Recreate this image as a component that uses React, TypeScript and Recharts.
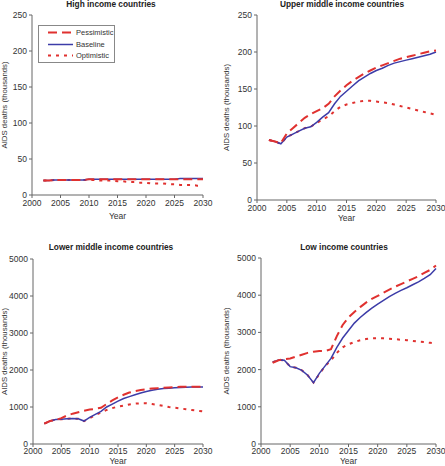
import { LineChart, Line, XAxis, YAxis } from "recharts"

const YEARS = [
  2002, 2003, 2004, 2005, 2006, 2007, 2008, 2009, 2010, 2011, 2012, 2013, 2014, 2015, 2016,
  2017, 2018, 2019, 2020, 2021, 2022, 2023, 2024, 2025, 2026, 2027, 2028, 2029, 2030,
]
const X_TICKS = [2000, 2005, 2010, 2015, 2020, 2025, 2030]
const Y_TICKS_SMALL = [0, 50, 100, 150, 200, 250]
const Y_TICKS_LARGE = [0, 1000, 2000, 3000, 4000, 5000]
const SERIES_NAMES = ["Pessimistic", "Baseline", "Optimistic"]

// High income countries
const HIGH_PESS = [
  20, 20, 21, 21, 21, 21, 21, 21, 22, 22, 22, 22, 22, 22, 22, 22, 22, 22, 22, 22, 22, 22, 22,
  22, 22, 22, 22, 22, 22,
]
const HIGH_BASE = [
  20, 20, 21, 21, 21, 21, 21, 21, 22, 22, 22, 22, 22, 22, 22, 22, 22, 22, 22, 22, 22, 22, 22,
  22, 23, 23, 23, 23, 23,
]
const HIGH_OPT = [
  20, 20, 21, 21, 21, 21, 21, 21, 21, 21, 20, 20, 20, 19, 19, 18, 18, 17, 17, 16, 16, 16, 15,
  15, 14, 14, 14, 13, 13,
]

// Upper middle income countries
const UPPER_PESS = [
  81, 79, 77, 90, 97, 104, 111, 116, 120, 124, 130, 140, 148, 155, 161, 166, 171, 175, 179, 182,
  185, 188, 191, 193, 195, 197, 199, 201, 202,
]
const UPPER_BASE = [
  81, 79, 76, 85, 89, 93, 97, 99, 105, 112, 118, 130, 140, 147, 154, 161, 166, 171, 175, 178,
  182, 185, 187, 189, 191, 193, 195, 197, 200,
]
const UPPER_OPT = [
  81, 79, 76, 85, 89, 93, 97, 99, 104, 109, 113, 120, 126, 129, 131, 133, 134, 134, 133, 132,
  131, 129, 127, 125, 123, 121, 119, 117, 115,
]

// Lower middle income countries
const LOWER_PESS = [
  550, 620, 650, 700, 770, 820, 860, 900, 930, 950, 980, 1080, 1180, 1260, 1330, 1390, 1430,
  1460, 1480, 1500, 1510, 1520, 1530, 1540, 1545, 1550, 1550, 1550, 1550,
]
const LOWER_BASE = [
  550, 620, 660, 670, 680, 690, 680, 620, 720, 800, 880, 1000, 1080, 1160, 1230, 1280, 1330,
  1380, 1420, 1450, 1480, 1500, 1510, 1520, 1530, 1535, 1540, 1540, 1540,
]
const LOWER_OPT = [
  550, 620, 660, 670, 680, 690, 680, 620, 700, 780, 850, 920, 970, 1010, 1040, 1070, 1090, 1100,
  1100, 1080, 1060, 1030, 1000, 980, 960, 940, 920, 900, 880,
]

// Low income countries
const LOW_PESS = [
  2180, 2250, 2280, 2300, 2350, 2400, 2450, 2480, 2500, 2500, 2550, 2900, 3200, 3400, 3550,
  3680, 3800, 3900, 3980, 4070, 4150, 4230, 4300, 4370, 4440, 4510, 4600, 4680, 4800,
]
const LOW_BASE = [
  2200, 2260, 2250, 2080, 2050, 1980, 1850, 1650, 1900, 2100, 2300, 2600, 2850, 3050, 3250,
  3400, 3530, 3650, 3760, 3860, 3960, 4050, 4130, 4200, 4280, 4360, 4450, 4550, 4720,
]
const LOW_OPT = [
  2200, 2260, 2250, 2080, 2050, 1980, 1850, 1650, 1880, 2100, 2250, 2450, 2600, 2680, 2740,
  2790, 2820, 2840, 2840, 2840, 2830, 2820, 2800, 2790, 2770, 2750, 2740, 2720, 2700,
]

const RED = "#e0312f"
const BLUE = "#3c3ca8"
const AXIS = "#666"
const FONT = "'Liberation Sans', Arial, sans-serif"
const PESS_DASH = "9 5"
const OPT_DASH = "3 5"

const rows = (p: number[], b: number[], o: number[]) =>
  YEARS.map((year, i) => ({ year, pessimistic: p[i], baseline: b[i], optimistic: o[i] }))

// legend sits inside the high income panel
function LegendBox() {
  const styles = [
    { dash: PESS_DASH, color: RED, w: 2 },
    { dash: undefined, color: BLUE, w: 1.5 },
    { dash: OPT_DASH, color: RED, w: 2 },
  ]
  return (
    <div
      style={{
        position: "absolute",
        left: 38,
        top: 25,
        width: 77,
        height: 38,
        border: "1px solid #888",
        background: "white",
        boxSizing: "border-box",
        paddingTop: 1,
        fontFamily: FONT,
        fontSize: 7.5,
        color: "#333",
      }}
    >
      {SERIES_NAMES.map((name, i) => (
        <div key={name} style={{ display: "flex", alignItems: "center", height: 11.5 }}>
          <svg width={37} height={11} style={{ display: "block" }}>
            <line x1={9} x2={34} y1={5.5} y2={5.5} stroke={styles[i].color} strokeWidth={styles[i].w} strokeDasharray={styles[i].dash} />
          </svg>
          <span>{name}</span>
        </div>
      ))}
    </div>
  )
}

type PanelProps = {
  title: string
  left: number
  top: number
  width: number
  height: number
  yWidth: number
  marginTop: number
  marginRight: number
  xHeight: number
  yTicks: number[]
  data: ReturnType<typeof rows>
  titleX: number
  titleY: number
  yearOffset: number
  tickGap: number
  showLegend?: boolean
}

function Panel(props: PanelProps) {
  const { title, left, top, width, height, yWidth, marginTop, marginRight, xHeight, yTicks, data } = props
  const tickStyle = { fontSize: 8.5, fill: "#333", fontFamily: FONT }
  const yDomain = [yTicks[0], yTicks[yTicks.length - 1]]
  return (
    <div style={{ position: "absolute", left, top, width, height }}>
      <div
        style={{
          position: "absolute",
          left: props.titleX - 100,
          width: 200,
          top: props.titleY - 6,
          lineHeight: "12px",
          textAlign: "center",
          fontFamily: FONT,
          fontSize: 8.3,
          fontWeight: "bold",
          color: "#222",
        }}
      >
        {title}
      </div>
      <LineChart
        width={width}
        height={height}
        data={data}
        margin={{ top: marginTop, right: marginRight, bottom: 0, left: 0 }}
        style={{ fontFamily: FONT, overflow: "visible" }}
      >
        <XAxis
          dataKey="year"
          type="number"
          domain={[2000, 2030]}
          ticks={X_TICKS}
          interval={0}
          height={xHeight}
          tickSize={3}
          tickMargin={props.tickGap}
          tick={tickStyle}
          stroke={AXIS}
          label={{ value: "Year", position: "insideTop", offset: props.yearOffset, style: { fontSize: 8.5, fill: "#333" } }}
        />
        <XAxis xAxisId="top" orientation="top" dataKey="year" type="number" domain={[2000, 2030]} height={0} tick={false} tickLine={false} stroke={AXIS} />
        <YAxis
          type="number"
          domain={yDomain}
          ticks={yTicks}
          interval={0}
          width={yWidth}
          tickSize={3}
          tickMargin={2}
          tick={tickStyle}
          stroke={AXIS}
          label={{
            value: "AIDS deaths (thousands)",
            angle: -90,
            position: "insideLeft",
            offset: 4,
            style: { textAnchor: "middle", fontSize: 7.8, fill: "#333" },
          }}
        />
        <YAxis yAxisId="right" orientation="right" width={0} tick={false} tickLine={false} stroke={AXIS} domain={yDomain} />
        <Line dataKey="optimistic" name={SERIES_NAMES[2]} stroke={RED} strokeWidth={2} strokeDasharray={OPT_DASH} dot={false} isAnimationActive={false} />
        <Line dataKey="baseline" name={SERIES_NAMES[1]} stroke={BLUE} strokeWidth={1.5} dot={false} isAnimationActive={false} />
        <Line dataKey="pessimistic" name={SERIES_NAMES[0]} stroke={RED} strokeWidth={2} strokeDasharray={PESS_DASH} dot={false} isAnimationActive={false} />
      </LineChart>
      {props.showLegend && <LegendBox />}
    </div>
  )
}

export default function App() {
  return (
    <div style={{ position: "absolute", left: 0, top: 0, width: 445, height: 466, background: "white", overflow: "hidden" }}>
      <Panel
        title="High income countries"
        left={0}
        top={0}
        width={222}
        height={233}
        yWidth={32}
        marginTop={15}
        marginRight={19}
        xHeight={38}
        yTicks={Y_TICKS_SMALL}
        data={rows(HIGH_PESS, HIGH_BASE, HIGH_OPT)}
        titleX={111}
        titleY={4}
        yearOffset={18}
        tickGap={2}
        showLegend
      />
      <Panel
        title="Upper middle income countries"
        left={222}
        top={0}
        width={223}
        height={233}
        yWidth={35}
        marginTop={15}
        marginRight={9}
        xHeight={33}
        yTicks={Y_TICKS_SMALL}
        data={rows(UPPER_PESS, UPPER_BASE, UPPER_OPT)}
        titleX={120}
        titleY={4}
        yearOffset={15}
        tickGap={2}
      />
      <Panel
        title="Lower middle income countries"
        left={0}
        top={233}
        width={222}
        height={233}
        yWidth={33}
        marginTop={26}
        marginRight={19}
        xHeight={22}
        yTicks={Y_TICKS_LARGE}
        data={rows(LOWER_PESS, LOWER_BASE, LOWER_OPT)}
        titleX={111}
        titleY={14}
        yearOffset={14}
        tickGap={1}
      />
      <Panel
        title="Low  income countries"
        left={222}
        top={233}
        width={223}
        height={233}
        yWidth={39}
        marginTop={25}
        marginRight={9}
        xHeight={22}
        yTicks={Y_TICKS_LARGE}
        data={rows(LOW_PESS, LOW_BASE, LOW_OPT)}
        titleX={122}
        titleY={14}
        yearOffset={14}
        tickGap={1}
      />
    </div>
  )
}
